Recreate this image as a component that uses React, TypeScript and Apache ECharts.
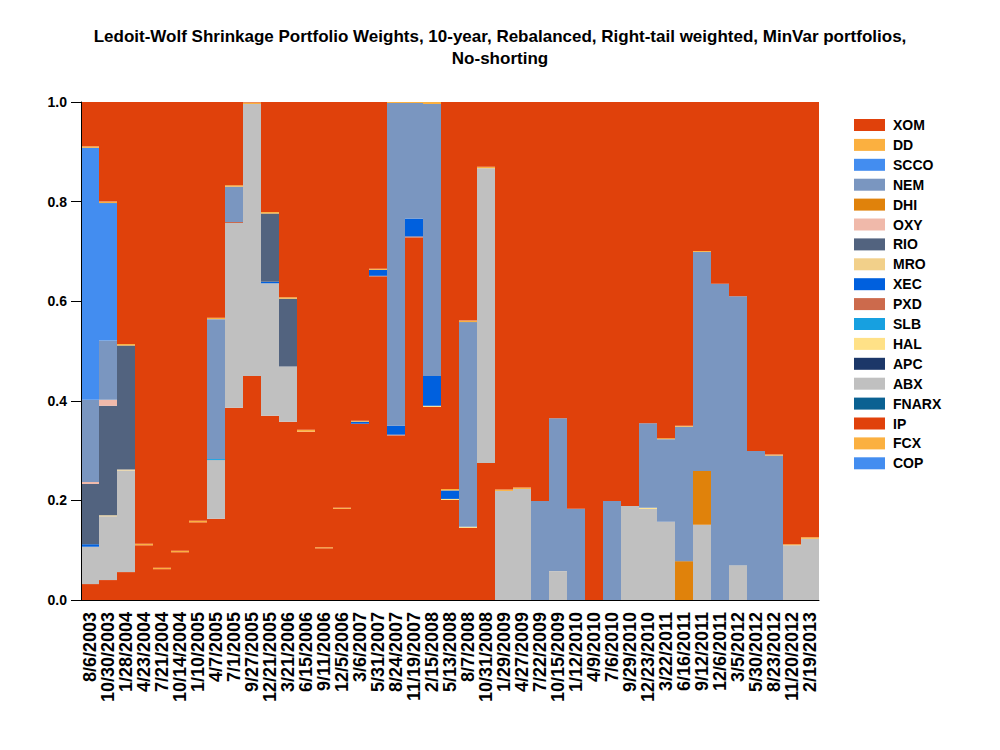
import React, { useEffect, useRef } from "react";
import * as echarts from "echarts";

const dates = [
  "8/6/2003", "10/30/2003", "1/28/2004", "4/23/2004", "7/21/2004", "10/14/2004", "1/10/2005",
  "4/7/2005", "7/1/2005", "9/27/2005", "12/21/2005", "3/21/2006", "6/15/2006", "9/11/2006",
  "12/5/2006", "3/6/2007", "5/31/2007", "8/24/2007", "11/19/2007", "2/15/2008", "5/13/2008",
  "8/7/2008", "10/31/2008", "1/29/2009", "4/27/2009", "7/22/2009", "10/15/2009", "1/12/2010",
  "4/9/2010", "7/6/2010", "9/29/2010", "12/23/2010", "3/22/2011", "6/16/2011", "9/12/2011",
  "12/6/2011", "3/5/2012", "5/30/2012", "8/23/2012", "11/20/2012", "2/19/2013",
];

// weights per ticker, one value per date (index order as dates)
const COP = [0,0,0,0,0,0,0,0,0,0,0,0,0,0,0,0,0,0,0,0,0,0,0,0,0,0,0,0,0,0,0,0,0,0,0,0,0,0,0,0,0];
const FCX = [0,0,0,0,0,0,0,0,0,0,0,0,0,0,0,0,0,0,0,0,0,0,0,0,0,0,0,0,0,0,0,0,0,0,0,0,0,0,0,0,0];
const IP = [0.032,0.040,0.056,0.110,0.062,0.096,0.156,0.163,0.386,0.450,0.370,0.358,0.338,0.104,0.183,0.354,0.649,0.330,0.728,0.388,0.201,0.145,0.275,0,0,0,0,0,0,0,0,0,0,0,0,0,0,0,0,0,0];
const FNARX = [0,0,0,0,0,0,0,0,0,0,0,0,0,0,0,0,0,0,0,0,0,0,0,0,0,0,0,0,0,0,0,0,0,0,0,0,0,0,0,0,0];
const ABX = [0.075,0.128,0.204,0,0,0,0,0.118,0.371,0.546,0.266,0.111,0,0,0,0,0,0,0,0,0,0,0.592,0.219,0.223,0,0.058,0,0,0,0.189,0.183,0.157,0,0.151,0,0.070,0,0,0.110,0.123];
const APC = [0,0,0,0,0,0,0,0,0,0,0,0,0,0,0,0,0,0,0,0,0,0,0,0,0,0,0,0,0,0,0,0,0,0,0,0,0,0,0,0,0];
const HAL = [0,0,0,0,0,0,0,0,0,0,0,0,0,0,0,0,0,0,0,0.002,0.002,0.002,0,0,0,0,0,0,0,0,0,0.002,0,0,0,0,0,0,0,0,0];
const SLB = [0,0,0,0,0,0,0,0.002,0,0,0,0,0,0,0,0,0,0,0,0,0,0,0,0,0,0,0,0,0,0,0,0,0,0,0,0,0,0,0,0,0];
const PXD = [0,0,0,0,0,0,0,0,0.002,0,0,0,0,0,0,0,0.002,0.002,0.002,0,0,0,0,0,0,0,0,0,0,0,0,0,0,0,0,0,0,0,0,0,0];
const XEC = [0.005,0,0,0,0,0,0,0,0,0,0.003,0,0,0,0,0.004,0.012,0.018,0.036,0.060,0.017,0,0,0,0,0,0,0,0,0,0,0,0,0,0,0,0,0,0,0,0];
const MRO = [0,0.002,0.002,0,0,0,0,0,0,0,0,0,0,0,0,0,0,0,0,0,0,0,0,0,0,0,0,0,0,0,0,0,0,0,0,0,0,0,0,0,0];
const RIO = [0.121,0.220,0.249,0,0,0,0,0,0,0,0.137,0.136,0,0,0,0,0,0,0,0,0,0,0,0,0,0,0,0,0,0,0,0,0,0,0,0,0,0,0,0,0];
const OXY = [0.004,0.012,0,0,0,0,0,0,0,0,0,0,0,0,0,0,0,0,0,0,0,0,0,0,0,0,0,0,0,0,0,0,0,0,0,0,0,0,0,0,0];
const DHI = [0,0,0,0,0,0,0,0,0,0,0,0,0,0,0,0,0,0,0,0,0,0,0,0,0,0,0,0,0,0,0,0,0,0.078,0.108,0,0,0,0,0,0];
const NEM = [0.165,0.119,0,0,0,0,0,0.281,0.071,0,0,0,0,0,0,0,0,0.648,0.232,0.546,0,0.411,0,0,0,0.199,0.307,0.183,0,0.199,0,0.170,0.166,0.270,0.440,0.635,0.540,0.299,0.290,0,0];
const SCCO = [0.506,0.276,0,0,0,0,0,0,0,0,0,0,0,0,0,0,0,0,0,0,0,0,0,0,0,0,0,0,0,0,0,0,0,0,0,0,0,0,0,0,0];
const DD = [0.003,0.003,0.003,0.003,0.003,0.003,0.003,0.003,0.003,0.003,0.003,0.003,0.004,0.002,0.002,0.002,0.002,0.002,0.002,0.004,0.003,0.003,0.003,0.003,0.003,0,0,0,0,0,0,0,0.002,0.002,0.002,0,0,0,0.002,0.002,0.003];
const XOM = [0.089,0.200,0.486,0.887,0.935,0.901,0.841,0.433,0.167,0.001,0.221,0.392,0.658,0.894,0.815,0.640,0.335,0,0,0,0.777,0.439,0.130,0.778,0.774,0.801,0.635,0.817,1.0,0.801,0.811,0.645,0.675,0.650,0.299,0.365,0.390,0.701,0.708,0.888,0.874];

const yTicks = ["0.0", "0.2", "0.4", "0.6", "0.8", "1.0"];

// stacking order, bottom to top
const stackNames = ["COP","FCX","IP","FNARX","ABX","APC","HAL","SLB","PXD","XEC","MRO","RIO","OXY","DHI","NEM","SCCO","DD","XOM"];
const stackData = [COP,FCX,IP,FNARX,ABX,APC,HAL,SLB,PXD,XEC,MRO,RIO,OXY,DHI,NEM,SCCO,DD,XOM];
const stackColors = ["#438DF0","#FBB040","#E0410B","#0A6192","#C0C0C0","#1C3768","#FFE187","#17A0E0","#CC6A4C","#0060DE","#F2D08A","#52637F","#F0B9AA","#E0820B","#7A96C0","#438DF0","#FBB040","#E0410B"];

const FONT = 'Arial, "Liberation Sans", sans-serif';

export default function App() {
  const ref = useRef<HTMLDivElement>(null);
  useEffect(() => {
    if (!ref.current) return;
    const chart = echarts.init(ref.current, null, { renderer: "svg" });
    const series = stackNames.map((name, i) => ({
      name,
      type: "bar",
      stack: "total",
      data: stackData[i].map((v) => (v === 0 ? "-" : v)),
      barCategoryGap: "0%",
      itemStyle: { color: stackColors[i] },
      emphasis: { disabled: true },
    }));
    chart.setOption({
      animation: false,
      textStyle: { fontFamily: FONT },
      title: {
        text: "Ledoit-Wolf Shrinkage Portfolio Weights, 10-year, Rebalanced, Right-tail weighted, MinVar portfolios,\nNo-shorting",
        left: "center",
        top: 20,
        textStyle: { fontFamily: FONT, fontSize: 17, fontWeight: "bold", color: "#000", lineHeight: 22, align: "center" },
      },
      legend: {
        orient: "vertical",
        left: 849,
        top: 113,
        itemWidth: 31,
        itemHeight: 12,
        itemGap: 5.9,
        icon: "rect",
        data: [...stackNames].reverse(),
        itemStyle: { borderWidth: 0 },
        textStyle: { fontFamily: FONT, fontSize: 14, fontWeight: "bold", color: "#000", padding: [0, 0, 0, 3] },
      },
      grid: { left: 81, width: 738, top: 102, height: 498 },
      xAxis: {
        type: "category",
        data: dates,
        z: 5,
        axisLine: { lineStyle: { color: "#000", width: 1 } },
        axisTick: { interval: 9, alignWithLabel: true, length: 6, lineStyle: { color: "#000" } },
        axisLabel: { interval: 0, rotate: 90, margin: 12, fontFamily: FONT, fontSize: 18, fontWeight: "bold", color: "#000" },
      },
      yAxis: {
        type: "value",
        min: 0,
        max: 1,
        interval: 0.2,
        z: 5,
        splitLine: { show: false },
        axisLine: { show: true, lineStyle: { color: "#000", width: 1 } },
        axisTick: { show: true, length: 10, lineStyle: { color: "#000" } },
        axisLabel: {
          margin: 14,
          fontFamily: FONT,
          fontSize: 14,
          fontWeight: "bold",
          color: "#000",
          formatter: (v: number) => yTicks[Math.round(v / 0.2)] ?? v.toFixed(1),
        },
      },
      series,
    });
    return () => chart.dispose();
  }, []);
  return <div ref={ref} style={{ width: 1000, height: 750, position: "absolute", left: 0, top: 0 }} />;
}
